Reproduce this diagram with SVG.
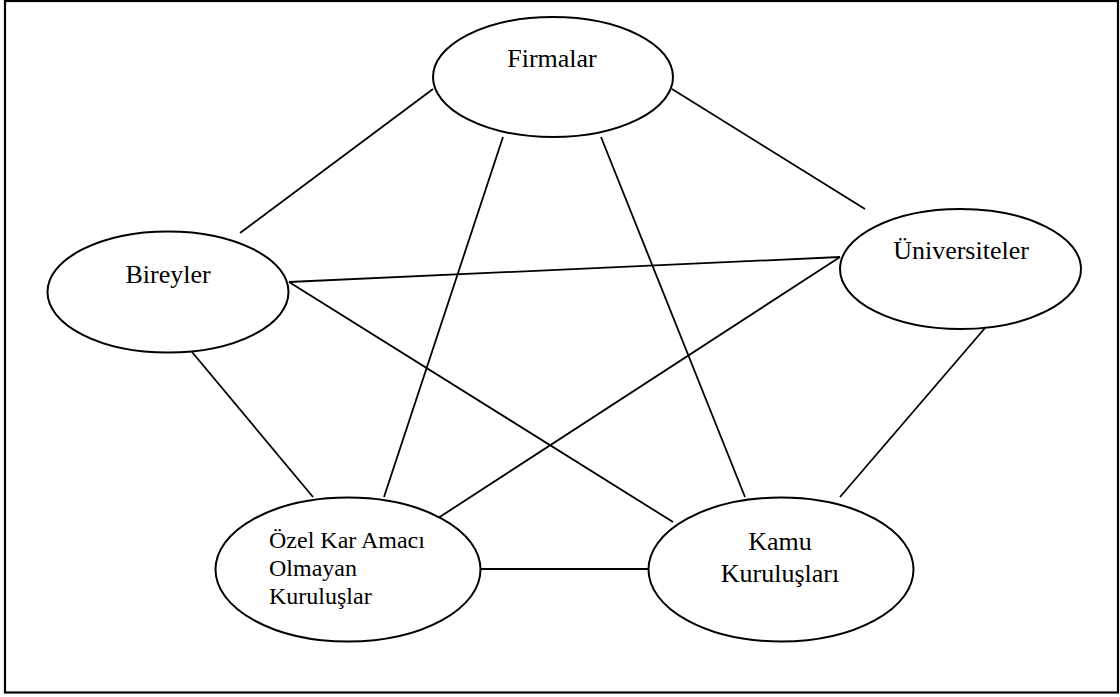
<svg xmlns="http://www.w3.org/2000/svg" width="1120" height="697" viewBox="0 0 1120 697">
<style>
.node{fill:#fff;stroke:#000;stroke-width:2}
.lbl{font-family:"Liberation Serif","Times New Roman",serif;font-size:26px;fill:#000}
.mid{text-anchor:middle}
.small{font-size:24px}
#connectors line{stroke:#000;stroke-width:1.8}
</style>
<rect x="0" y="0" width="1120" height="697" fill="#fff"/>
<rect x="5" y="1" width="1113" height="691.5" fill="none" stroke="#000" stroke-width="2.2"/>
<g id="connectors">
<line x1="433" y1="89" x2="240" y2="233"/>
<line x1="672" y1="89" x2="865" y2="209"/>
<line x1="503" y1="137" x2="384" y2="497"/>
<line x1="601" y1="137" x2="745" y2="497"/>
<line x1="289" y1="282" x2="840" y2="257"/>
<line x1="289" y1="282" x2="673" y2="522"/>
<line x1="192" y1="352" x2="313" y2="497"/>
<line x1="840" y1="257" x2="432" y2="522"/>
<line x1="985" y1="328" x2="840" y2="497"/>
<line x1="481" y1="569" x2="648" y2="569"/>
</g>
<g id="firmalar">
<ellipse class="node" cx="553" cy="77" rx="120" ry="60"/>
<text class="lbl mid" x="552" y="67">Firmalar</text>
</g>
<g id="bireyler">
<ellipse class="node" cx="168" cy="292" rx="120.5" ry="60.5"/>
<text class="lbl mid" x="168" y="283">Bireyler</text>
</g>
<g id="universiteler">
<ellipse class="node" cx="960.5" cy="269" rx="120.5" ry="60"/>
<text class="lbl mid" x="961" y="259">Üniversiteler</text>
</g>
<g id="ozel">
<ellipse class="node" cx="348" cy="569.5" rx="132.5" ry="72"/>
<text class="lbl small" x="269" y="548">Özel Kar Amacı</text>
<text class="lbl small" x="269" y="576">Olmayan</text>
<text class="lbl small" x="269" y="604">Kuruluşlar</text>
</g>
<g id="kamu">
<ellipse class="node" cx="781" cy="569.5" rx="132.5" ry="72"/>
<text class="lbl mid" x="780" y="550">Kamu</text>
<text class="lbl mid" x="780" y="582">Kuruluşları</text>
</g>
</svg>
